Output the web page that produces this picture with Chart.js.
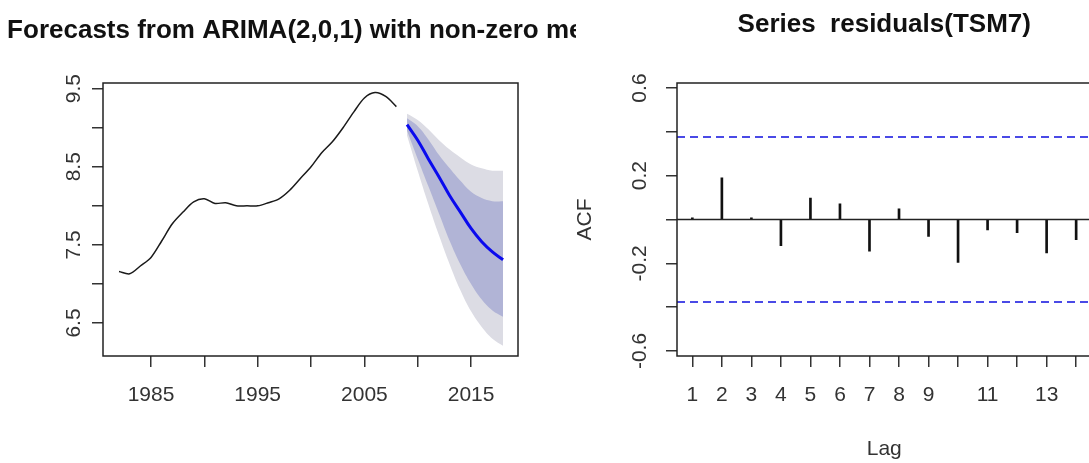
<!DOCTYPE html>
<html>
<head>
<meta charset="utf-8">
<script src="https://cdn.jsdelivr.net/npm/chart.js@4.4.1/dist/chart.umd.min.js"></script>
<style>
  html, body { margin: 0; padding: 0; background: #fff; width: 1089px; height: 463px; overflow: hidden; }
  canvas { display: block; }
  #left-wrap { position: absolute; left: 0; top: 0; width: 576px; height: 463px; overflow: hidden; }
  #right-wrap { position: absolute; left: 565px; top: 0; width: 540px; height: 463px; }
</style>
</head>
<body>
<div id="left-wrap"><canvas id="forecast-chart" width="640" height="463"></canvas></div>
<div id="right-wrap"><canvas id="acf-chart" width="540" height="463"></canvas></div>
<script>
// Forecast panel: observed series (annual)
const histYears = [1982, 1983, 1984, 1985, 1986, 1987, 1988, 1989, 1990, 1991, 1992, 1993, 1994, 1995,
  1996, 1997, 1998, 1999, 2000, 2001, 2002, 2003, 2004, 2005, 2006, 2007, 2008];
const histValues = [7.16, 7.13, 7.23, 7.34, 7.55, 7.77, 7.92, 8.05, 8.09, 8.03, 8.04, 8.00, 8.00, 8.00,
  8.04, 8.09, 8.20, 8.35, 8.50, 8.68, 8.82, 9.00, 9.20, 9.38, 9.45, 9.40, 9.27];

// Forecasts with 80% and 95% intervals
const fcYears = [2009, 2010, 2011, 2012, 2013, 2014, 2015, 2016, 2017, 2018];
const fcMean = [9.04, 8.84, 8.60, 8.37, 8.13, 7.92, 7.71, 7.54, 7.41, 7.31];
const lo80 = [8.96, 8.60, 8.25, 7.90, 7.55, 7.25, 7.00, 6.80, 6.66, 6.58];
const hi80 = [9.12, 9.02, 8.85, 8.65, 8.48, 8.32, 8.18, 8.10, 8.06, 8.06];
const lo95 = [8.90, 8.45, 8.02, 7.62, 7.25, 6.92, 6.65, 6.45, 6.30, 6.21];
const hi95 = [9.18, 9.10, 8.98, 8.84, 8.72, 8.62, 8.53, 8.48, 8.45, 8.45];

const yearTicks = [1985, 1990, 1995, 2000, 2005, 2010, 2015];
const yearTickLabels = ['1985', '', '1995', '', '2005', '', '2015'];
const levelTicks = [6.5, 7, 7.5, 8, 8.5, 9, 9.5];
const levelTickLabels = ['6.5', '', '7.5', '', '8.5', '', '9.5'];

// ACF panel
const lags = [1, 2, 3, 4, 5, 6, 7, 8, 9, 10, 11, 12, 13, 14];
const acfValues = [0.008, 0.19, 0.008, -0.12, 0.098, 0.072, -0.145, 0.049, -0.077, -0.196, -0.047, -0.06, -0.152, -0.092];
const ciBound = 0.377;
const acfTicks = [-0.6, -0.4, -0.2, 0, 0.2, 0.4, 0.6];
const acfTickLabels = ['-0.6', '', '-0.2', '', '0.2', '', '0.6'];
const lagTickLabels = ['1', '2', '3', '4', '5', '6', '7', '8', '9', '', '11', '', '13', ''];

// Axis ranges
const yearMin = 1980.5, yearMax = 2019.4;
const levelMin = 6.078, levelMax = 9.572;
const lagMin = 0.48, lagMax = 14.52;
const acfMin = -0.623, acfMax = 0.623;

const FONT = '"Liberation Sans", Arial, sans-serif';
Chart.defaults.font.family = FONT;
Chart.defaults.color = '#333';

const toPoints = (xs, ys) => xs.map((x, i) => ({ x: x, y: ys[i] }));

// Draws the R-style box, rotated y tick labels and the main title
const rStylePlugin = {
  id: 'rStyle',
  afterDraw(chart, args, opts) {
    const ctx = chart.ctx;
    const area = chart.chartArea;
    const yScale = chart.scales.y;
    ctx.save();
    ctx.strokeStyle = '#222';
    ctx.lineWidth = 1.5;
    ctx.strokeRect(area.left, area.top, area.right - area.left, area.bottom - area.top);

    ctx.fillStyle = '#333';
    ctx.font = '21px ' + FONT;
    ctx.textAlign = 'center';
    ctx.textBaseline = 'middle';
    opts.tickValues.forEach((v, i) => {
      const label = opts.tickLabels[i];
      if (!label) return;
      ctx.save();
      ctx.translate(area.left - opts.labelOffset, yScale.getPixelForValue(v));
      ctx.rotate(-Math.PI / 2);
      ctx.fillText(label, 0, 0);
      ctx.restore();
    });

    ctx.fillStyle = '#111';
    ctx.font = 'bold 26px ' + FONT;
    ctx.fillText(opts.title, (area.left + area.right) / 2, opts.titleY);
    ctx.restore();
  }
};

function tickAxis(extra) {
  return Object.assign({
    type: 'linear',
    border: { display: false },
    grid: { drawOnChartArea: false, drawTicks: true, tickLength: 11, tickColor: '#333', lineWidth: 1.5 }
  }, extra);
}

// Left: forecast chart
new Chart(document.getElementById('forecast-chart'), {
  type: 'line',
  data: {
    datasets: [
      { data: toPoints(histYears, histValues), borderColor: '#1a1a1a', borderWidth: 1.5,
        pointRadius: 0, tension: 0.3, fill: false, order: 0 },
      { data: toPoints(fcYears, fcMean), borderColor: '#0a0aee', borderWidth: 3,
        pointRadius: 0, tension: 0.4, fill: false, order: 0 },
      { data: toPoints(fcYears, hi80), borderColor: 'rgba(0,0,0,0)', backgroundColor: '#b1b4d6',
        pointRadius: 0, tension: 0.4, fill: '+1', order: 1 },
      { data: toPoints(fcYears, lo80), borderColor: 'rgba(0,0,0,0)',
        pointRadius: 0, tension: 0.4, fill: false, order: 1 },
      { data: toPoints(fcYears, hi95), borderColor: 'rgba(0,0,0,0)', backgroundColor: '#dcdce4',
        pointRadius: 0, tension: 0.4, fill: '+1', order: 2 },
      { data: toPoints(fcYears, lo95), borderColor: 'rgba(0,0,0,0)',
        pointRadius: 0, tension: 0.4, fill: false, order: 2 }
    ]
  },
  options: {
    responsive: false,
    animation: false,
    layout: { autoPadding: false, padding: { top: 83, right: 122, left: 0, bottom: 0 } },
    scales: {
      x: tickAxis({
        min: yearMin, max: yearMax,
        afterBuildTicks: s => { s.ticks = yearTicks.map(v => ({ value: v })); },
        afterFit: s => { s.height = 107; },
        ticks: { autoSkip: false, maxRotation: 0, padding: 16, color: '#333', font: { size: 21 },
          callback: (v, i) => yearTickLabels[i] }
      }),
      y: tickAxis({
        min: levelMin, max: levelMax,
        afterBuildTicks: s => { s.ticks = levelTicks.map(v => ({ value: v })); },
        afterFit: s => { s.width = 103; },
        ticks: { display: false }
      })
    },
    plugins: {
      legend: { display: false },
      tooltip: { enabled: false },
      rStyle: { title: 'Forecasts from ARIMA(2,0,1) with non-zero mean', titleY: 31,
        tickValues: levelTicks, tickLabels: levelTickLabels, labelOffset: 29 }
    }
  },
  plugins: [rStylePlugin]
});

// Right: ACF of residuals
new Chart(document.getElementById('acf-chart'), {
  type: 'bar',
  data: {
    datasets: [
      { type: 'line', data: [{ x: lagMin, y: 0 }, { x: lagMax, y: 0 }], borderColor: '#222',
        borderWidth: 1.5, pointRadius: 0 },
      { type: 'line', data: [{ x: lagMin, y: ciBound }, { x: lagMax, y: ciBound }], borderColor: '#4a4ae6',
        borderWidth: 2, borderDash: [8, 5], pointRadius: 0 },
      { type: 'line', data: [{ x: lagMin, y: -ciBound }, { x: lagMax, y: -ciBound }], borderColor: '#4a4ae6',
        borderWidth: 2, borderDash: [8, 5], pointRadius: 0 },
      { type: 'bar', data: toPoints(lags, acfValues), backgroundColor: '#111', barThickness: 2 }
    ]
  },
  options: {
    responsive: false,
    animation: false,
    layout: { autoPadding: false, padding: { top: 83, right: 13.5, left: 0, bottom: 0 } },
    scales: {
      x: tickAxis({
        min: lagMin, max: lagMax, offset: false,
        grid: { offset: false, drawOnChartArea: false, drawTicks: true, tickLength: 11, tickColor: '#333', lineWidth: 1.5 },
        afterBuildTicks: s => { s.ticks = lags.map(v => ({ value: v })); },
        afterFit: s => { s.height = 107; },
        ticks: { autoSkip: false, maxRotation: 0, padding: 16, color: '#333', font: { size: 21 },
          callback: (v, i) => lagTickLabels[i] },
        title: { display: true, text: 'Lag', color: '#333', font: { size: 21 }, padding: { top: 0, bottom: 1 } }
      }),
      y: tickAxis({
        min: acfMin, max: acfMax,
        afterBuildTicks: s => { s.ticks = acfTicks.map(v => ({ value: v })); },
        afterFit: s => { s.width = 112; },
        ticks: { display: false },
        title: { display: true, text: 'ACF', color: '#333', font: { size: 21 }, padding: { top: 8, bottom: 0 } }
      })
    },
    plugins: {
      legend: { display: false },
      tooltip: { enabled: false },
      rStyle: { title: 'Series  residuals(TSM7)', titleY: 25,
        tickValues: acfTicks, tickLabels: acfTickLabels, labelOffset: 37 }
    }
  },
  plugins: [rStylePlugin]
});
</script>
</body>
</html>
